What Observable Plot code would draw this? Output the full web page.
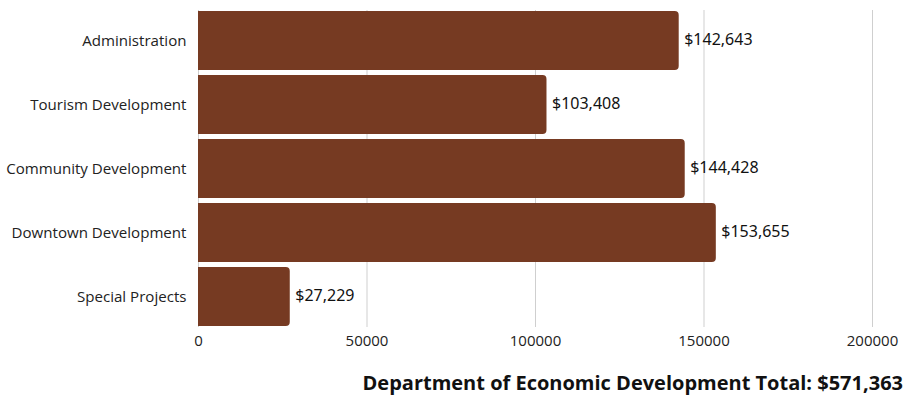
<!DOCTYPE html>
<html>
<head>
<meta charset="utf-8">
<script src="https://cdn.jsdelivr.net/npm/d3@7"></script>
<script src="https://cdn.jsdelivr.net/npm/@observablehq/plot@0.6"></script>
<style>
  body { margin: 0; background: #fff; font-family: "Open Sans", sans-serif; }
  #chart { width: 909px; }
  #caption { width: 909px; box-sizing: border-box; text-align: right; padding-right: 6px; font-family: "Open Sans", sans-serif; font-weight: 700; font-size: 20px; color: #111; margin-top: 9px; }
</style>
</head>
<body>
<div id="chart"></div>
<div id="caption">Department of Economic Development Total: $571,363</div>
<script>
const categories = ["Administration", "Tourism Development", "Community Development", "Downtown Development", "Special Projects"];
const amounts = [142643, 103408, 144428, 153655, 27229];
const xTicks = [0, 50000, 100000, 150000, 200000];

const data = categories.map((c, i) => ({category: c, amount: amounts[i]}));
const fmt = d => "$" + d3.format(",")(d);

const plot = Plot.plot({
  width: 909,
  height: 360,
  marginTop: 10,
  marginBottom: 33,
  marginLeft: 198,
  marginRight: 37,
  style: {fontFamily: "'Open Sans', sans-serif", fontSize: "14px", color: "#222"},
  x: {domain: [0, 200000], ticks: xTicks, tickFormat: d => String(d), tickSize: 0, tickPadding: 9, label: null},
  y: {domain: categories, paddingInner: 0.08, paddingOuter: 0, tickSize: 0, tickPadding: 12, label: null},
  marks: [
    Plot.gridX(xTicks, {stroke: "#cfcfcf", strokeOpacity: 1, strokeWidth: 1}),
    Plot.barX(data, {x: "amount", y: "category", fill: "#763a22", rx2: 4}),
    Plot.text(data, {x: "amount", y: "category", text: d => fmt(d.amount), textAnchor: "start", dx: 5, dy: -1, fontSize: 16, fill: "#111", fontFamily: "'Noto Sans', sans-serif"}),
    Plot.axisX(xTicks, {tickSize: 0, tickPadding: 8, tickFormat: d => String(d), fontFamily: "'Open Sans', sans-serif", fontSize: 15, label: null}),
    Plot.axisY({tickSize: 0, tickPadding: 12, fontSize: 15.1, fontFamily: "'Open Sans', sans-serif", label: null})
  ]
});
document.getElementById("chart").appendChild(plot);
</script>
</body>
</html>
